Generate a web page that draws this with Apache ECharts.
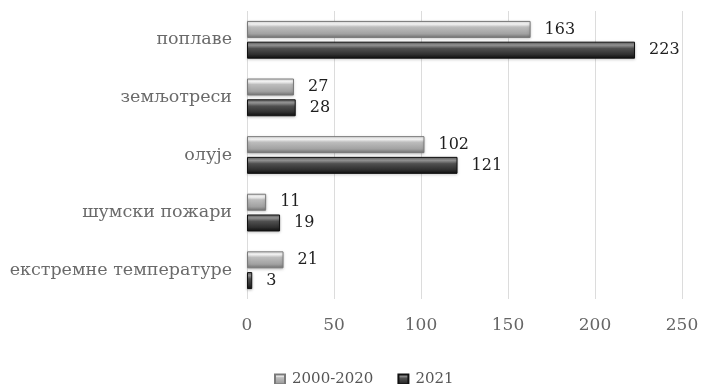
<!DOCTYPE html>
<html>
<head>
<meta charset="utf-8">
<script src="https://cdn.jsdelivr.net/npm/echarts@6/dist/echarts.min.js"></script>
<style>
  html, body { margin: 0; padding: 0; background: #fff; }
  #chart { width: 704px; height: 384px; }
</style>
</head>
<body>
<div id="chart"></div>
<script>
// categories, top to bottom
const categories = ["поплаве", "земљотреси", "олује", "шумски пожари", "екстремне температуре"];
const seriesNames = ["2000-2020", "2021"];
const values2000_2020 = [163, 27, 102, 11, 21];
const values2021 = [223, 28, 121, 19, 3];
const xTicks = [0, 50, 100, 150, 200, 250];

const serif = "DejaVu Serif";

// bevelled look: light at the top edge, darker towards the bottom
const lightFill = new echarts.graphic.LinearGradient(0, 0, 0, 1, [
  { offset: 0, color: "#e8e8e8" },
  { offset: 0.18, color: "#fbfbfb" },
  { offset: 0.35, color: "#bdbdbd" },
  { offset: 0.75, color: "#a2a2a2" },
  { offset: 1, color: "#737373" },
]);
const darkFill = new echarts.graphic.LinearGradient(0, 0, 0, 1, [
  { offset: 0, color: "#5e5e5e" },
  { offset: 0.2, color: "#979797" },
  { offset: 0.4, color: "#505050" },
  { offset: 0.75, color: "#303030" },
  { offset: 1, color: "#0e0e0e" },
]);

const chart = echarts.init(document.getElementById("chart"));

const valueLabel = {
  show: true,
  position: "right",
  distance: 14,
  color: "#1e1e1e",
  fontFamily: serif,
  fontSize: 16,
};

chart.setOption({
  animation: false,
  textStyle: { fontFamily: serif },
  grid: { left: 247, right: 22, top: 11, bottom: 85, containLabel: false },
  legend: {
    top: 367,
    left: 269,
    itemWidth: 10,
    itemHeight: 10,
    itemGap: 24,
    icon: "rect",
    textStyle: { color: "#555", fontSize: 15, fontFamily: serif, padding: [0, 0, 0, 2] },
    data: seriesNames,
  },
  xAxis: {
    type: "value",
    min: xTicks[0],
    max: xTicks[xTicks.length - 1],
    interval: 50,
    axisLine: { show: false },
    axisTick: { show: false },
    splitLine: { lineStyle: { color: "#dcdcdc", width: 1 } },
    axisLabel: { color: "#666", fontSize: 17, margin: 18, fontFamily: serif },
  },
  yAxis: {
    type: "category",
    inverse: true,
    data: categories,
    axisLine: { show: false },
    axisTick: { show: false },
    axisLabel: { color: "#6a6a6a", fontSize: 17.5, margin: 15, fontFamily: serif },
  },
  series: [
    {
      name: seriesNames[0],
      type: "bar",
      data: values2000_2020,
      barWidth: 17,
      barGap: "22%",
      itemStyle: {
        color: lightFill,
        borderColor: "#7a7a7a",
        borderWidth: 1,
        shadowColor: "rgba(0,0,0,0.25)",
        shadowBlur: 3,
        shadowOffsetY: 1,
      },
      label: valueLabel,
    },
    {
      name: seriesNames[1],
      type: "bar",
      data: values2021,
      barWidth: 17,
      itemStyle: {
        color: darkFill,
        borderColor: "#111",
        borderWidth: 1,
        shadowColor: "rgba(0,0,0,0.25)",
        shadowBlur: 3,
        shadowOffsetY: 1,
      },
      label: valueLabel,
    },
  ],
});
</script>
</body>
</html>
